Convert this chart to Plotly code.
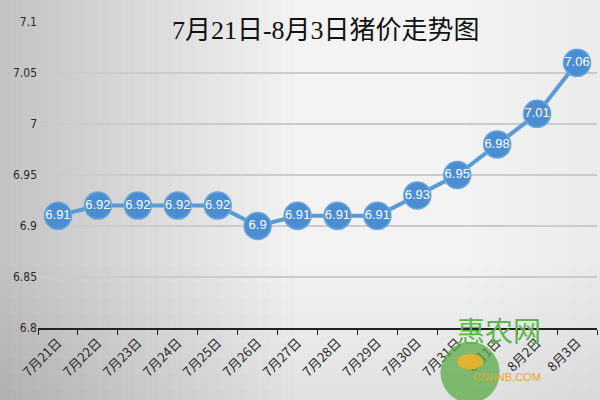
import plotly.graph_objects as go

dates = ["7月21日", "7月22日", "7月23日", "7月24日", "7月25日", "7月26日", "7月27日",
         "7月28日", "7月29日", "7月30日", "7月31日", "8月1日", "8月2日", "8月3日"]
prices = [6.91, 6.92, 6.92, 6.92, 6.92, 6.90, 6.91, 6.91, 6.91, 6.93, 6.95, 6.98, 7.01, 7.06]
y_ticks = [6.8, 6.85, 6.9, 6.95, 7.0, 7.05, 7.1]
y_tick_text = ["6.8", "6.85", "6.9", "6.95", "7", "7.05", "7.1"]
title_text = "7月21日-8月3日猪价走势图"

fig = go.Figure()
fig.add_trace(go.Scatter(
    x=dates, y=prices, mode="lines+markers+text",
    line=dict(color="#5b9bd5", width=4),
    marker=dict(size=27, color="#4a8dd2", line=dict(color="#6aa6dc", width=1.5)),
    text=[f"{v:g}" for v in prices], textposition="middle center",
    textfont=dict(color="white", size=13, family="Liberation Sans Narrow, Liberation Sans, Arial"),
    cliponaxis=False, showlegend=False,
))

fig.update_layout(
    width=600, height=400,
    margin=dict(l=38, r=3, t=22, b=72, autoexpand=False),
    paper_bgcolor="#f3f3f3", plot_bgcolor="rgba(0,0,0,0)",
    title=dict(text=title_text, x=0.543, xanchor="center", y=0.925, yanchor="middle",
               font=dict(family="Liberation Serif, Noto Sans CJK SC", size=26, color="#111111")),
    xaxis=dict(type="category", range=[-0.5, len(dates) - 0.5], autorange=False,
               tickson="boundaries", ticks="outside", ticklen=5,
               tickcolor="#222", showline=True, linecolor="#222", linewidth=2,
               showgrid=False, tickangle=-45, automargin=False,
               tickfont=dict(family="Noto Sans CJK SC", size=13, color="#2a2a2a")),
    yaxis=dict(range=[6.8, 7.1], autorange=False, tickvals=y_ticks, ticktext=y_tick_text,
               showgrid=True, gridcolor="#cbcbcb", gridwidth=1.5, zeroline=False,
               ticks="", automargin=False,
               tickfont=dict(family="DejaVu Sans Condensed, Liberation Sans", size=12, color="#2a2a2a")),
)

# background shading (darker toward the left edge, the right edge and the bottom)
for i in range(24):
    fig.add_shape(type="rect", xref="paper", yref="paper", layer="below",
                  x0=-0.08, x1=-0.07 + 0.022 * (i + 1), y0=-0.3, y1=1.1,
                  fillcolor="rgba(0,0,0,0.0065)", line=dict(width=0))
for i in range(8):
    fig.add_shape(type="rect", xref="paper", yref="paper", layer="below",
                  x0=1.01 - 0.03 * (i + 1), x1=1.02, y0=-0.3, y1=1.1,
                  fillcolor="rgba(0,0,0,0.005)", line=dict(width=0))
for i in range(10):
    fig.add_shape(type="rect", xref="paper", yref="paper", layer="below",
                  x0=-0.08, x1=1.02, y0=-0.3, y1=-0.3 + 0.05 * (i + 1),
                  fillcolor="rgba(0,0,0,0.006)", line=dict(width=0))

# watermark
fig.add_shape(type="circle", xref="paper", yref="paper",
              x0=0.72, x1=0.826, y0=-0.245, y1=-0.045,
              fillcolor="rgba(90,170,70,0.75)", line=dict(width=0))
fig.add_shape(type="circle", xref="paper", yref="paper",
              x0=0.75, x1=0.796, y0=-0.135, y1=-0.085,
              fillcolor="rgba(240,180,40,0.9)", line=dict(width=0))
fig.add_annotation(text="惠农网", xref="paper", yref="paper", x=0.903, y=-0.078,
                   showarrow=False, font=dict(family="Noto Sans CJK SC", size=28, color="#5cb84a"))
fig.add_annotation(text="CNHNB.COM", xref="paper", yref="paper", x=0.903, y=-0.186,
                   showarrow=False, font=dict(family="Liberation Sans", size=11, color="#e8a830"))

fig.write_html("out.html", config={"displayModeBar": False},
               post_script="document.body.style.margin='0';")
